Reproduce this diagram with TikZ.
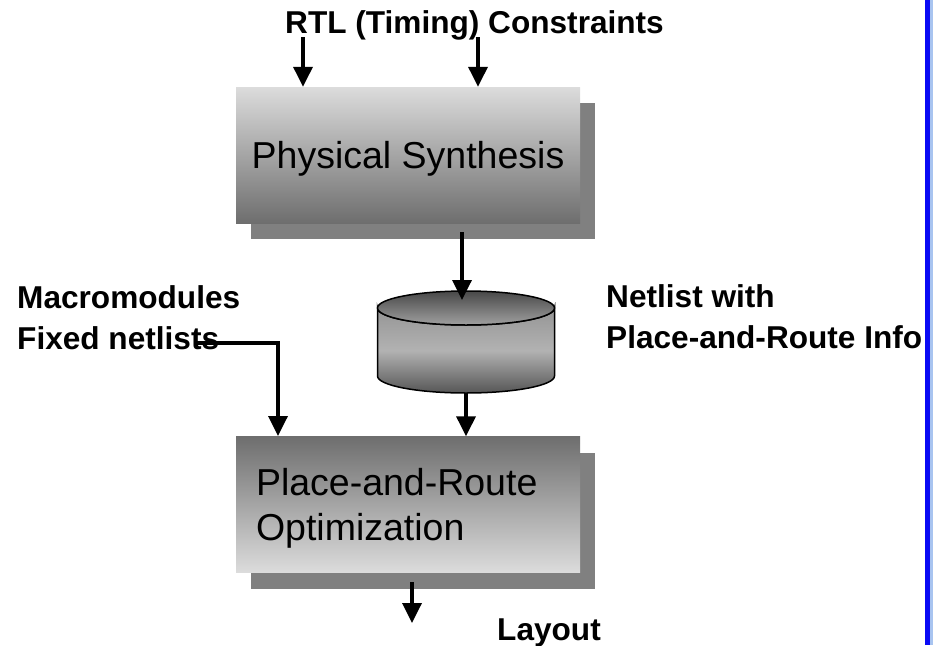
\documentclass[tikz,border=0pt]{standalone}
\usepackage{fontspec}
\setmainfont{Liberation Sans}
\usetikzlibrary{arrows.meta, shadows}

\definecolor{boxlight}{HTML}{DCDCDC}
\definecolor{boxdark}{HTML}{6E6E6E}
\definecolor{shadowgray}{HTML}{808080}
\definecolor{dbupper}{HTML}{959595}
\definecolor{dbmid}{HTML}{B2B2B2}
\definecolor{dbdark}{HTML}{565656}
\definecolor{dbtopdark}{HTML}{484848}
\definecolor{dbtoplight}{HTML}{A0A0A0}
\definecolor{railblue}{HTML}{0A0AF5}
\definecolor{railpale}{HTML}{A8C4F0}

\begin{document}
\begin{tikzpicture}[x=1pt, y=-1pt,
    stage/.style={rectangle, minimum width=344pt, minimum height=136pt, inner sep=0pt,
        font=\fontsize{37.5}{45}\selectfont,
        general shadow={fill=shadowgray, shadow xshift=15pt, shadow yshift=-16pt}},
    annot/.style={inner sep=0pt, align=left, font=\fontsize{31.6}{41}\selectfont\bfseries},
    flow/.style={-{Triangle[length=20pt, width=19pt]}, line width=3.5pt}
]
\useasboundingbox (0,0) rectangle (933,645);

% Boxes
\node[stage, text depth=0pt, top color=boxlight, bottom color=boxdark] (ps) at (408,155) {Physical Synthesis};
\node[stage, text depth=45pt, top color=boxdark, bottom color=boxlight, text width=304pt, align=left] (pnr)
    at (408,504.5) {Place-and-Route\\Optimization};

% Netlist database
\draw[line width=1.5pt, top color=dbupper, bottom color=dbdark, middle color=dbmid]
    (377.5,308) -- (377.5,376) arc[start angle=180, end angle=0, x radius=88.5, y radius=17]
    -- (554.5,308) arc[start angle=0, end angle=180, x radius=88.5, y radius=17] -- cycle;
\draw[line width=1.5pt, shading=axis, shading angle=0, top color=dbtopdark, bottom color=dbtoplight]
    (466,308) ellipse[x radius=88.5, y radius=17];
\coordinate (dbin) at (462,300);
\coordinate (dbout) at (466,393);

% Labels
\node[annot, anchor=base] (rtl) at (474.5,33) {RTL (Timing) Constraints};
\node[annot, anchor=north west] (macro) at (17,285) {Macromodules\\Fixed netlists};
\node[annot, anchor=north west] (netinfo) at (606,284) {Netlist with\\Place-and-Route Info};
\node[annot, anchor=base west] (layout) at (497,640) {Layout};

% Free ends
\coordinate (rtlA) at (303,37);
\coordinate (rtlB) at (478,37);
\coordinate (psout) at (462,232);
\coordinate (fixtail) at (197,343);
\coordinate (macroin) at (278,436);
\coordinate (outtail) at (412,582);
\coordinate (outhead) at (412,623);

% Arrows
\draw[flow] (rtlA) -- (rtlA |- ps.north);
\draw[flow] (rtlB) -- (rtlB |- ps.north);
\draw[flow] (psout) -- (dbin);
\draw[flow] (dbout) -- (dbout |- pnr.north);
\draw[flow] (fixtail) -| (macroin);
\draw[flow] (outtail) -- (outhead);

% Side rail
\fill[railblue] (925,0) rectangle (930,645);
\fill[railpale] (930,0) rectangle (933,645);

\end{tikzpicture}
\end{document}
